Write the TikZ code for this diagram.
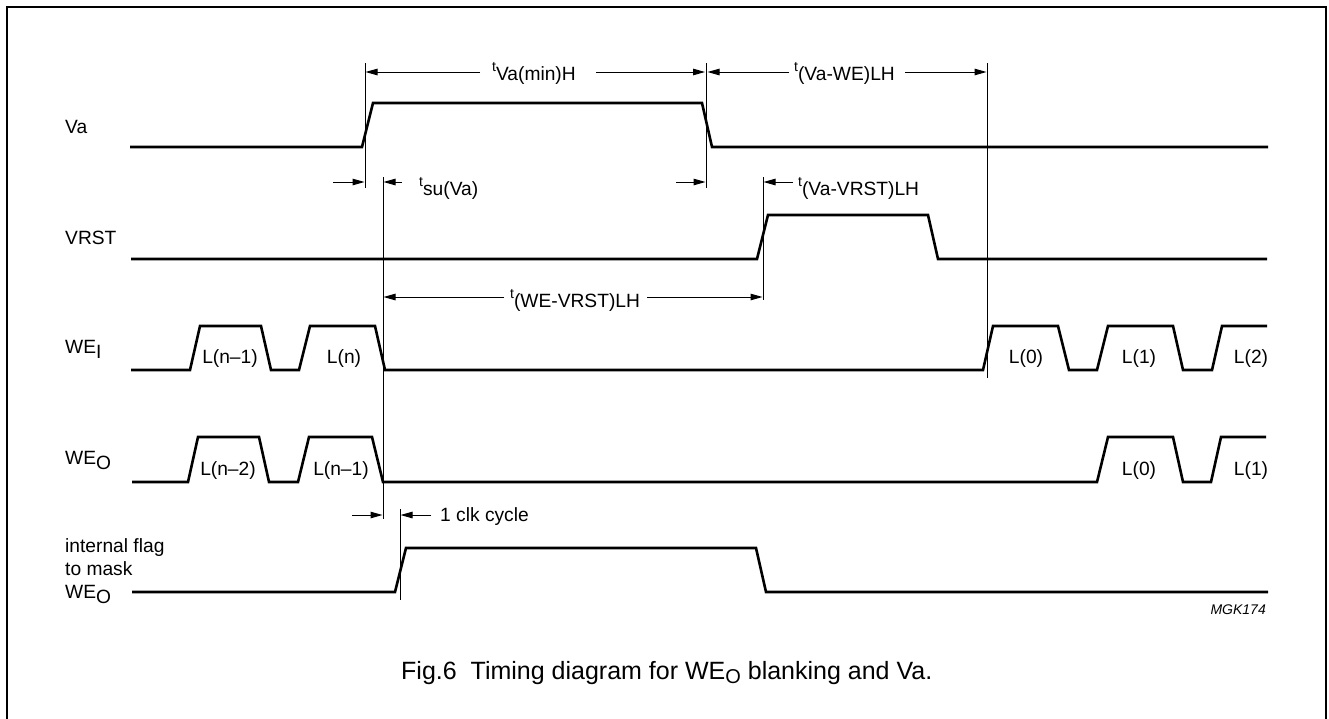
\documentclass[tikz,border=0pt]{standalone}
\usepackage{fontspec}
\setmainfont{Liberation Sans}
\usetikzlibrary{arrows.meta}
\newcommand\tsym[1]{\raisebox{9pt}{\fontsize{14}{14}\selectfont t}#1}
\newcommand\lowsub[1]{\raisebox{-5.5pt}{#1}}
\begin{document}
\begin{tikzpicture}[x=1pt,y=-1pt,
  sig/.style={line width=2.6pt},
  vline/.style={line width=1pt},
  frameline/.style={line width=2pt},
  dimarrow/.style={line width=1pt,-{Triangle[length=12pt,width=6.5pt]}},
  lbl/.style={anchor=base west,inner sep=0pt,font=\fontsize{19.2}{22}\selectfont},
  lev/.style={anchor=base,inner sep=0pt,font=\fontsize{19.2}{22}\selectfont}]
\useasboundingbox (0,0) rectangle (1329,718);
% frame
\coordinate (fbl) at (7,720);
\coordinate (ftl) at (7,6.5);
\coordinate (ftr) at (1326,6.5);
\coordinate (fbr) at (1326,720);
\draw[frameline] (fbl) -- (ftl) -- (ftr) -- (fbr);

% signal names
\node[lbl] (lVa) at (65,133) {Va};
\node[lbl] (lVRST) at (65,244) {VRST};
\node[lbl] (lWEI) at (65,353) {WE\lowsub{I}};
\node[lbl] (lWEO) at (65,464) {WE\lowsub{O}};
\node[lbl] (lfl1) at (65,552) {internal flag};
\node[lbl] (lfl2) at (65,575) {to mask};
\node[lbl] (lfl3) at (65,598) {WE\lowsub{O}};

% waveforms
\draw[sig] (130,147) -- (362,147) -- (373,103) -- (702,103) -- (712,147) -- (1268,147);
\draw[sig] (131,259) -- (757,259) -- (768,215) -- (928,215) -- (938,259) -- (1267,259);
\draw[sig] (131,370) -- (190,370) -- (200,326) -- (261,326) -- (271,370) -- (299,370) -- (310,326)
  -- (375,326) -- (385,370) -- (983,370) -- (993,326) -- (1058,326) -- (1069,370) -- (1097,370)
  -- (1108,326) -- (1173,326) -- (1183,370) -- (1212,370) -- (1222,326) -- (1267,326);
\draw[sig] (132,482) -- (188,482) -- (198,437) -- (259,437) -- (269,482) -- (298,482) -- (309,437)
  -- (372,437) -- (383,482) -- (1097,482) -- (1108,437) -- (1173,437) -- (1183,482) -- (1211,482)
  -- (1221,437) -- (1266,437);
\draw[sig] (132,592) -- (395,592) -- (406,548) -- (756,548) -- (766,592) -- (1268,592);

% pulse labels
\node[lev] (wi1) at (230,363) {L(n–1)};
\node[lev] (wi2) at (344,363) {L(n)};
\node[lev] (wi3) at (1026,363) {L(0)};
\node[lev] (wi4) at (1139,363) {L(1)};
\node[lev] (wi5) at (1251,363) {L(2)};
\node[lev] (wo1) at (228,475) {L(n–2)};
\node[lev] (wo2) at (341,475) {L(n–1)};
\node[lev] (wo3) at (1139,475) {L(0)};
\node[lev] (wo4) at (1251,475) {L(1)};

% marker lines
\coordinate (a1t) at (365,63);  \coordinate (a1b) at (365,188);
\coordinate (a2t) at (706,63);  \coordinate (a2b) at (706,188);
\coordinate (a3t) at (987,63);  \coordinate (a3b) at (987,378);
\coordinate (b1t) at (383,177); \coordinate (b1b) at (383,519);
\coordinate (b2t) at (763,177); \coordinate (b2b) at (763,300);
\coordinate (c1t) at (400,509); \coordinate (c1b) at (400,600);
\draw[vline] (a1t) -- (a1b);
\draw[vline] (a2t) -- (a2b);
\draw[vline] (a3t) -- (a3b);
\draw[vline] (b1t) -- (b1b);
\draw[vline] (b2t) -- (b2b);
\draw[vline] (c1t) -- (c1b);

% t Va(min)H
\node[lbl] (tva) at (492,80) {\tsym{Va(min)H}};
\coordinate (tvaL) at (480,72); \coordinate (tvaLe) at (365.5,72);
\coordinate (tvaR) at (596,72); \coordinate (tvaRe) at (705,72);
\draw[dimarrow] (tvaL) -- (tvaLe);
\draw[dimarrow] (tvaR) -- (tvaRe);

% t (Va-WE)LH
\node[lbl] (tvawe) at (794,80) {\tsym{(Va-WE)LH}};
\coordinate (tvweL) at (789,72); \coordinate (tvweLe) at (707.5,72);
\coordinate (tvweR) at (905,72); \coordinate (tvweRe) at (986.5,72);
\draw[dimarrow] (tvweL) -- (tvweLe);
\draw[dimarrow] (tvweR) -- (tvweRe);

% t su(Va)
\node[lbl] (tsu) at (419,195) {\tsym{su(Va)}};
\coordinate (su1s) at (333,182); \coordinate (su1e) at (364.5,182);
\coordinate (su2s) at (402,182); \coordinate (su2e) at (383.5,182);
\coordinate (su3s) at (676,182); \coordinate (su3e) at (705.5,182);
\draw[dimarrow] (su1s) -- (su1e);
\draw[dimarrow] (su2s) -- (su2e);
\draw[dimarrow] (su3s) -- (su3e);

% t (Va-VRST)LH
\node[lbl] (tvavr) at (798,195) {\tsym{(Va-VRST)LH}};
\coordinate (vr1s) at (793,182); \coordinate (vr1e) at (763.5,182);
\draw[dimarrow] (vr1s) -- (vr1e);

% t (WE-VRST)LH
\node[lbl] (twevr) at (510,307) {\tsym{(WE-VRST)LH}};
\coordinate (wv1s) at (504,297); \coordinate (wv1e) at (383.5,297);
\coordinate (wv2s) at (647,297); \coordinate (wv2e) at (762.5,297);
\draw[dimarrow] (wv1s) -- (wv1e);
\draw[dimarrow] (wv2s) -- (wv2e);

% 1 clk cycle
\node[lbl] (clk) at (440,521) {1 clk cycle};
\coordinate (ck1s) at (352,515); \coordinate (ck1e) at (382.5,515);
\coordinate (ck2s) at (431,515); \coordinate (ck2e) at (400.5,515);
\draw[dimarrow] (ck1s) -- (ck1e);
\draw[dimarrow] (ck2s) -- (ck2e);

% code and caption
\node[anchor=base east,inner sep=0pt,font=\fontsize{14}{16}\selectfont\itshape] (mgk) at (1266,614) {MGK174};
\node[anchor=base west,inner sep=0pt,font=\fontsize{25}{30}\selectfont] (cap) at (401,679)
  {Fig.6\ \ Timing diagram for WE\raisebox{-4.5pt}{\fontsize{20}{22}\selectfont O} blanking and Va.};
\end{tikzpicture}
\end{document}
